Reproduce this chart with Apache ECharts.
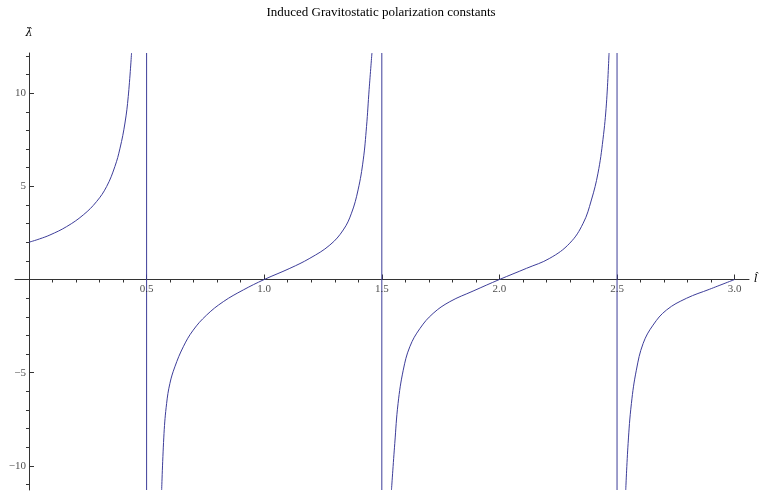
<!DOCTYPE html>
<html>
<head>
<meta charset="utf-8">
<script src="https://cdn.jsdelivr.net/npm/echarts@6/dist/echarts.min.js"></script>
<style>html,body{margin:0;padding:0;background:#fff}#c{width:762px;height:494px}</style>
</head>
<body>
<div id="c"></div>
<script>
// ---- data ----
const titleText = 'Induced Gravitostatic polarization constants';
const xName = 'l\u0302';
const yName = '\u03bb\u0302';

const xMin = -0.0595, xMax = 3.061;
const yMin = -11.3, yMax = 12.16;

const xMajor = [0.5, 1.0, 1.5, 2.0, 2.5, 3.0];
const xMinor = [0.1,0.2,0.3,0.4,0.6,0.7,0.8,0.9,1.1,1.2,1.3,1.4,1.6,1.7,1.8,1.9,2.1,2.2,2.3,2.4,2.6,2.7,2.8,2.9];
const yMajor = [-10, -5, 5, 10];
const yMinor = [-11,-9,-8,-7,-6,-4,-3,-2,-1,1,2,3,4,6,7,8,9,11,12];

// jumps drawn as full-height vertical segments
const jumpX = [0.5, 1.5, 2.5];

const branch1X = [0, 0.045, 0.089, 0.160, 0.231, 0.287, 0.330, 0.365, 0.387, 0.408, 0.422, 0.436];
const branch1Y = [2.0, 2.18, 2.39, 2.84, 3.47, 4.18, 4.99, 6.06, 7.05, 8.4, 9.83, 12.16];

const branch2X = [0.564, 0.574, 0.585, 0.599, 0.620, 0.656, 0.698, 0.755, 0.826, 0.911, 1.0, 1.109, 1.194, 1.279, 1.336, 1.371, 1.399, 1.421, 1.435, 1.446, 1.458];
const branch2Y = [-11.3, -8.27, -6.66, -5.58, -4.69, -3.61, -2.72, -1.91, -1.19, -0.56, 0, 0.60, 1.14, 1.85, 2.66, 3.56, 4.81, 6.42, 8.22, 10.19, 12.16];

const branch3X = [1.541, 1.555, 1.569, 1.591, 1.619, 1.662, 1.718, 1.789, 1.888, 2.0, 2.115, 2.214, 2.299, 2.356, 2.391, 2.419, 2.440, 2.455, 2.466];
const branch3Y = [-11.3, -8.81, -6.66, -4.87, -3.61, -2.63, -1.82, -1.19, -0.62, 0, 0.6, 1.14, 1.95, 3.02, 4.27, 5.71, 7.5, 9.47, 12.16];

const branch4X = [2.537, 2.547, 2.561, 2.582, 2.611, 2.653, 2.710, 2.795, 2.894, 3.0];
const branch4Y = [-11.3, -8.81, -6.66, -4.87, -3.43, -2.45, -1.64, -1.01, -0.52, 0];

// ---- chart ----
const curveColor = '#3d3d99';
const axisColor = '#333';
const labelColor = '#222';
const serif = "'Liberation Serif', 'DejaVu Serif', serif";
const nameFont = "'DejaVu Serif', serif";

function pairs(xs, ys) { return xs.map((x, i) => [x, ys[i]]); }
const fmt = v => {
  const s = Math.abs(v) < 1e-9 ? '0' : String(Math.abs(v));
  return v < 0 ? '\u2212' + s : s;
};

const branches = [pairs(branch1X, branch1Y), pairs(branch2X, branch2Y), pairs(branch3X, branch3Y), pairs(branch4X, branch4Y)];

const series = branches.map(d => ({
  type: 'line', data: d, showSymbol: false, smooth: 0.4,
  xAxisIndex: 0, yAxisIndex: 0, clip: true, silent: true,
  lineStyle: { color: curveColor, width: 1 }
})).concat(jumpX.map(x => ({
  type: 'line', data: [[x, yMin], [x, yMax]], showSymbol: false,
  xAxisIndex: 0, yAxisIndex: 0, clip: true, silent: true,
  lineStyle: { color: curveColor, width: 1 }
}))).concat([{
  // tick labels of the horizontal axis, placed on the axis line
  type: 'scatter', data: xMajor.map(v => [v, 0]), symbolSize: 0, silent: true,
  xAxisIndex: 0, yAxisIndex: 0, z: 5,
  label: { show: true, position: 'bottom', distance: 4, formatter: p => p.value[0].toFixed(1),
           fontFamily: serif, fontSize: 11, color: labelColor }
}, {
  // tick labels of the vertical axis
  type: 'scatter', data: yMajor.map(v => [0, v]), symbolSize: 0, silent: true,
  xAxisIndex: 0, yAxisIndex: 0, z: 5,
  label: { show: true, position: 'left', distance: 3, formatter: p => fmt(p.value[1]),
           fontFamily: serif, fontSize: 11, color: labelColor }
}]);

const chart = echarts.init(document.getElementById('c'), null, { renderer: 'canvas' });
chart.setOption({
  animation: false,
  backgroundColor: '#fff',
  title: {
    text: titleText, left: 'center', top: 1,
    textStyle: { fontFamily: serif, fontSize: 13, fontWeight: 'normal', color: '#000' }
  },
  grid: { left: 15, right: 13, top: 53, bottom: 4, containLabel: false, outerBoundsMode: 'none' },
  xAxis: [{
    type: 'value', min: xMin, max: xMax,
    name: xName, nameLocation: 'end', nameGap: 5,
    nameTextStyle: { fontFamily: nameFont, fontStyle: 'italic', fontSize: 11, color: '#000', padding: [0, 0, 14, 0] },
    axisLine: { show: true, onZero: true, lineStyle: { color: axisColor, width: 1 } },
    axisTick: { show: true, inside: true, length: 5, customValues: xMajor, lineStyle: { color: axisColor } },
    axisLabel: { show: false },
    splitLine: { show: false }
  }, {
    type: 'value', min: xMin, max: xMax,
    axisLine: { show: false, onZero: true, onZeroAxisIndex: 0 },
    axisTick: { show: true, inside: true, length: 3, customValues: xMinor, lineStyle: { color: axisColor } },
    axisLabel: { show: false }, splitLine: { show: false }
  }],
  yAxis: [{
    type: 'value', min: yMin, max: yMax,
    name: yName, nameLocation: 'end', nameGap: 14,
    nameTextStyle: { fontFamily: nameFont, fontStyle: 'italic', fontSize: 11, color: '#000' },
    axisLine: { show: true, onZero: true, lineStyle: { color: axisColor, width: 1 } },
    axisTick: { show: true, inside: true, length: 5, customValues: yMajor, lineStyle: { color: axisColor } },
    axisLabel: { show: false },
    splitLine: { show: false }
  }, {
    type: 'value', min: yMin, max: yMax,
    axisLine: { show: false, onZero: true, onZeroAxisIndex: 0 },
    axisTick: { show: true, inside: true, length: 3, customValues: yMinor, lineStyle: { color: axisColor } },
    axisLabel: { show: false }, splitLine: { show: false }
  }],
  series: series
});
</script>
</body>
</html>
